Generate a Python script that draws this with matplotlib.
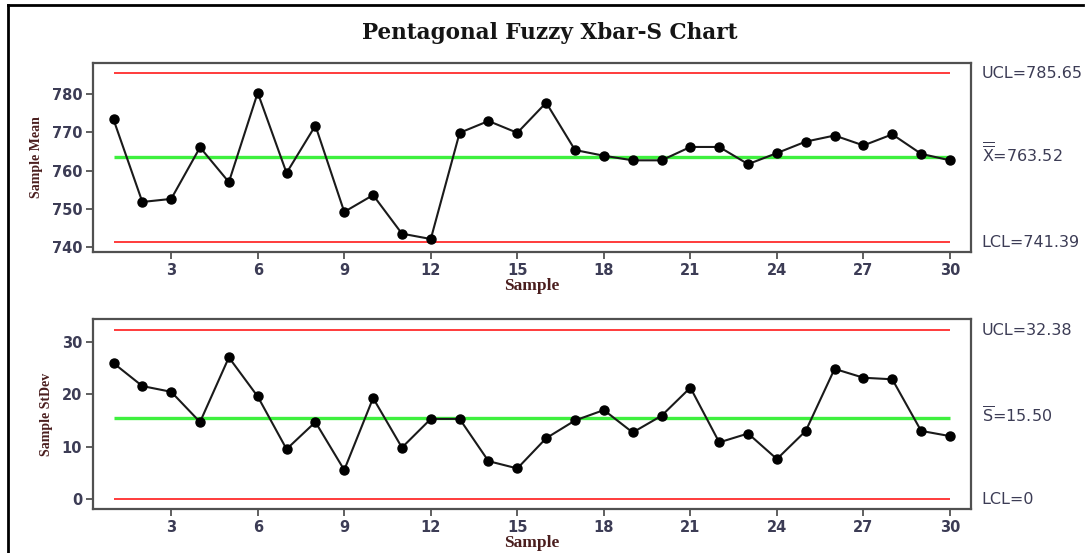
import numpy as np
import matplotlib
matplotlib.use("Agg")
import matplotlib.pyplot as plt
from matplotlib.lines import Line2D

# Sample numbers and chart values
samples = np.arange(1, 31)
sample_mean = [773.4, 751.8, 752.6, 766.1, 757.0, 780.4, 759.4, 771.8, 749.2, 753.6,
               743.5, 742.1, 769.9, 773.0, 769.9, 777.8, 765.4, 763.9, 762.7, 762.7,
               766.2, 766.2, 761.7, 764.6, 767.6, 769.2, 766.6, 769.5, 764.4, 762.7]
sample_sd = [26.0, 21.6, 20.5, 14.7, 27.1, 19.6, 9.5, 14.7, 5.5, 19.3,
             9.8, 15.3, 15.3, 7.2, 5.8, 11.6, 15.0, 17.0, 12.7, 15.9,
             21.3, 10.8, 12.5, 7.6, 13.0, 24.9, 23.2, 22.9, 13.0, 12.0]

xbar_limits = {"UCL": 785.65, "CL": 763.52, "LCL": 741.39}
s_limits = {"UCL": 32.38, "CL": 15.50, "LCL": 0.0}

xbar_labels = ["UCL=785.65", r"$\overline{\overline{\mathregular{X}}}$=763.52", "LCL=741.39"]
s_labels = ["UCL=32.38", r"$\overline{\mathregular{S}}$=15.50", "LCL=0"]

x_ticks = [3, 6, 9, 12, 15, 18, 21, 24, 27, 30]
xbar_yticks = [740, 750, 760, 770, 780]
s_yticks = [0, 10, 20, 30]

tick_color = "#3c3c55"
label_color = "#4a1e1e"
serif = ["Liberation Serif", "DejaVu Serif"]

fig = plt.figure(figsize=(10.85, 5.53), dpi=100)

# border like the pasted screenshot
fig.add_artist(Line2D([8 / 1085, 8 / 1085], [0, 1 - 5 / 553], color="black", lw=2,
                      transform=fig.transFigure))
fig.add_artist(Line2D([8 / 1085, 1083 / 1085], [1 - 5 / 553, 1 - 5 / 553], color="black",
                      lw=2, transform=fig.transFigure))

fig.text(0.507, 1 - 39.5 / 553, "Pentagonal Fuzzy Xbar-S Chart", ha="center", va="baseline",
         fontsize=15.5, fontweight="bold", family=["DejaVu Serif"], color="#151515")

ax1 = fig.add_axes([0.086, 0.5448, 0.8087, 0.3407])
ax2 = fig.add_axes([0.086, 0.0796, 0.8087, 0.3430])


def draw_panel(ax, values, limits, labels, yticks, ylim, ylabel, ysize):
    ax.hlines([limits["UCL"], limits["LCL"]], samples[0], samples[-1], colors="#ff3b3b", lw=1.4)
    ax.hlines(limits["CL"], samples[0], samples[-1], colors="#3ef03e", lw=2.4)
    ax.plot(samples, values, color="#1a1a1a", lw=1.5, marker="o", markersize=6.5,
            markerfacecolor="black", markeredgecolor="black")
    ax.set_xlim(0.30, 30.72)
    ax.set_ylim(*ylim)
    ax.set_xticks(x_ticks)
    ax.set_yticks(yticks)
    ax.tick_params(axis="both", direction="out", length=5, width=1.2, color="#444444",
                   labelsize=10.5, labelcolor=tick_color, pad=3)
    for lbl in ax.get_xticklabels() + ax.get_yticklabels():
        lbl.set_fontweight("bold")
    for sp in ax.spines.values():
        sp.set_color("#505050")
        sp.set_linewidth(1.6)
    ax.set_xlabel("Sample", family=serif, fontweight="bold", fontsize=12.5,
                  color=label_color, labelpad=0)
    ax.set_ylabel(ylabel, family=serif, fontweight="bold", fontsize=ysize,
                  color=label_color, labelpad=6)
    # limit labels sit on a shared baseline so the barred ones line up too
    for key, text in zip(["UCL", "CL", "LCL"], labels):
        ax.annotate(text, xy=(1.0, limits[key]), xycoords=("axes fraction", "data"),
                    xytext=(8, -4), textcoords="offset points", va="baseline", ha="left",
                    fontsize=11.5, color=tick_color, annotation_clip=False)


draw_panel(ax1, sample_mean, xbar_limits, xbar_labels, xbar_yticks, (738.77, 788.1),
           "Sample Mean", 10)
draw_panel(ax2, sample_sd, s_limits, s_labels, s_yticks, (-1.98, 34.41),
           "Sample StDev", 10)

fig.savefig("out.png", dpi=100)
